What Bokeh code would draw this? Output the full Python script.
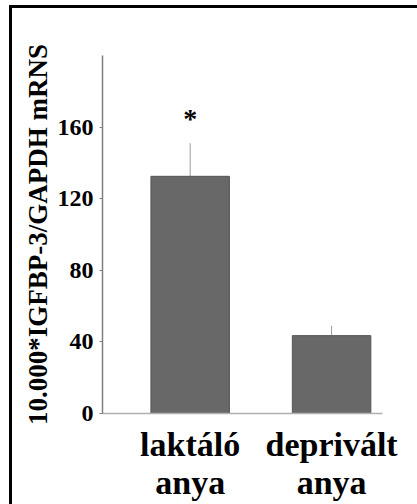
from bokeh.plotting import figure
from bokeh.layouts import column, row
from bokeh.models import Range1d, FixedTicker, ColumnDataSource, Spacer
from bokeh.core.properties import value
from bokeh.embed import file_html
from bokeh.resources import INLINE

categories = ["laktáló\nanya", "deprivált\nanya"]
means = [132.5, 43.5]
errors = [18.5, 5.5]
y_ticks = [0, 40, 80, 120, 160]
star_label = "*"
star_value = 165
y_title = "10.000*IGFBP-3/GAPDH mRNS"

xs = list(range(len(categories)))
src = ColumnDataSource(dict(
    x=xs, top=means,
    err_top=[m + e for m, e in zip(means, errors)],
))

p = figure(width=405, height=496, output_backend="svg", toolbar_location=None,
           x_range=Range1d(-0.62, 1.36), y_range=Range1d(0, 200),
           min_border_left=90, min_border_top=47, min_border_right=35,
           min_border_bottom=85)
p.outline_line_color = None
p.xgrid.grid_line_color = None
p.ygrid.grid_line_color = None
p.background_fill_color = "white"
p.border_fill_color = "white"

p.segment(x0="x", y0="top", x1="x", y1="err_top", source=src,
          line_color="#9a9a9a", line_width=1)
p.vbar(x="x", top="top", bottom=0, width=0.555, source=src,
       fill_color="#686868", line_color="#555555", line_width=1)

p.text(x=[xs[0]], y=[star_value], text=[star_label], text_font=value("Liberation Serif"),
       text_font_style="bold", text_font_size="28px", text_align="center",
       text_baseline="alphabetic", text_color="black")

serif = "Liberation Serif"
xa = p.xaxis[0]
xa.ticker = FixedTicker(ticks=xs)
xa.major_label_overrides = {i: c for i, c in zip(xs, categories)}
xa.major_tick_line_color = None
xa.minor_tick_line_color = None
xa.axis_line_color = "#b0b0b0"
xa.axis_line_width = 1.5
xa.major_label_text_font = serif
xa.major_label_text_font_style = "bold"
xa.major_label_text_font_size = "34px"
xa.major_label_text_color = "black"
xa.major_label_text_line_height = 1.05
xa.major_label_standoff = 6

ya = p.yaxis[0]
ya.ticker = FixedTicker(ticks=y_ticks)
ya.minor_tick_line_color = None
ya.major_tick_in = 0
ya.major_tick_out = 3
ya.major_tick_line_color = "#808080"
ya.axis_line_color = "#808080"
ya.axis_line_width = 1.5
ya.major_label_text_font = serif
ya.major_label_text_font_style = "bold"
ya.major_label_text_font_size = "24px"
ya.major_label_text_color = "black"
ya.major_label_standoff = 6
ya.axis_label = y_title
ya.axis_label_text_font = serif
ya.axis_label_text_font_style = "bold"
ya.axis_label_text_font_size = "27px"
ya.axis_label_text_color = "black"
ya.axis_label_standoff = 2

black = {"background-color": "black"}
layout = column(
    Spacer(width=417, height=5),
    row(
        Spacer(width=9, height=499),
        column(
            Spacer(width=408, height=3, styles=black),
            row(Spacer(width=3, height=496, styles=black), p),
        ),
    ),
)

open("out.html", "w").write(file_html(layout, INLINE))
